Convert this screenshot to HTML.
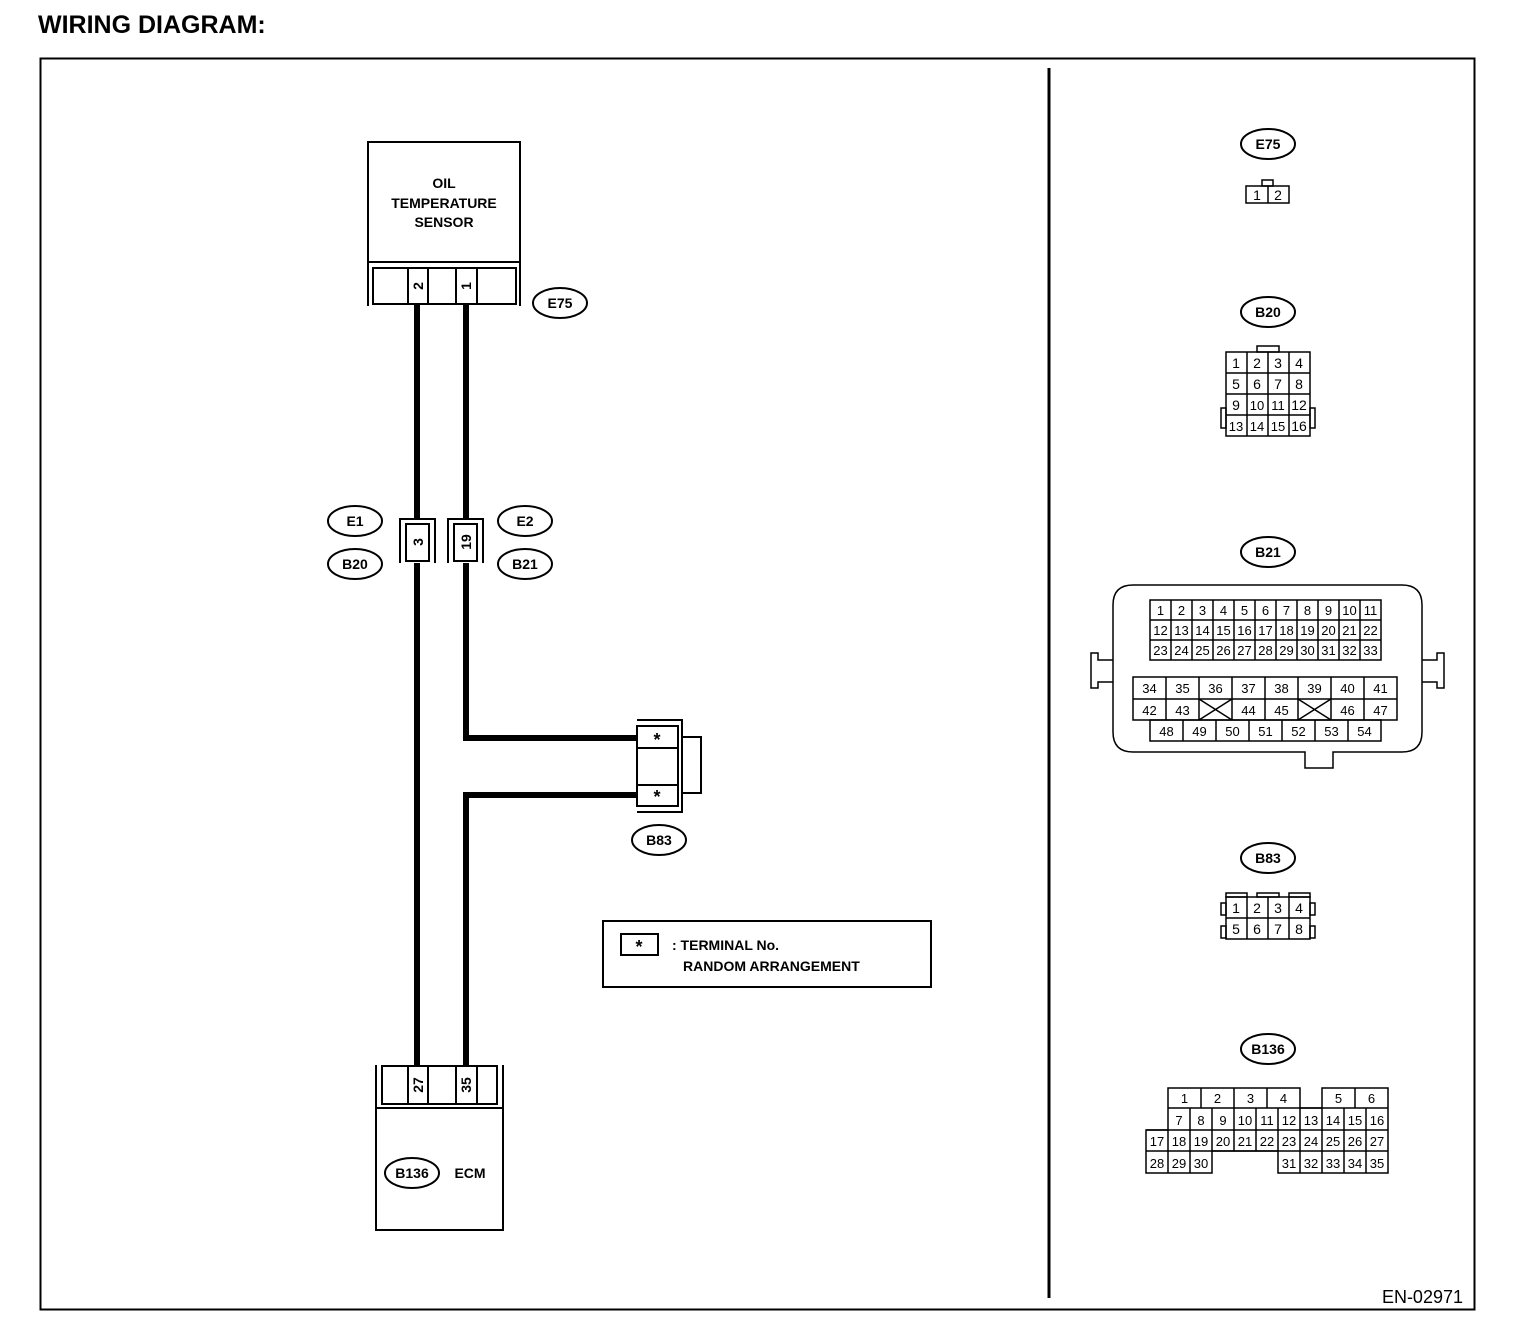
<!DOCTYPE html>
<html><head><meta charset="utf-8"><style>
html,body{margin:0;padding:0;background:#fff;}
svg{display:block;}
text{font-family:"Liberation Sans",Arial,sans-serif;fill:#000;}
.b{font-weight:bold;font-size:14px;text-anchor:middle;}
.n{font-size:14px;text-anchor:middle;}
.s{font-size:13px;text-anchor:middle;}
</style></head><body>
<svg width="1520" height="1328" viewBox="0 0 1520 1328" xmlns="http://www.w3.org/2000/svg">
<text x="38" y="33" style="font-weight:bold;font-size:25px">WIRING DIAGRAM:</text>
<rect x="40.5" y="58.5" width="1434" height="1251" fill="none" stroke="#000" stroke-width="2"/>
<line x1="1049" y1="68" x2="1049" y2="1298" stroke="#000" stroke-width="3"/>

<g fill="none" stroke="#000" stroke-width="2">
<polyline points="368,306 368,142 520,142 520,306"/>
<line x1="368" y1="262" x2="520" y2="262"/>
<rect x="373" y="268" width="143" height="36"/>
<line x1="408" y1="268" x2="408" y2="304"/><line x1="428" y1="268" x2="428" y2="304"/>
<line x1="456" y1="268" x2="456" y2="304"/><line x1="477" y1="268" x2="477" y2="304"/>
<polyline points="376,1065 376,1230 503,1230 503,1065"/>
<line x1="376" y1="1108" x2="503" y2="1108"/>
<rect x="382" y="1066" width="115" height="38"/>
<line x1="408" y1="1066" x2="408" y2="1104"/><line x1="428" y1="1066" x2="428" y2="1104"/>
<line x1="456" y1="1066" x2="456" y2="1104"/><line x1="477" y1="1066" x2="477" y2="1104"/>
<polyline points="400,563 400,519 435,519 435,563"/>
<rect x="406" y="524" width="23" height="37"/>
<polyline points="448,563 448,519 483,519 483,563"/>
<rect x="454" y="524" width="23" height="37"/>
<polyline points="637,720 682,720 682,812 637,812"/>
<rect x="637" y="726" width="41" height="80"/>
<line x1="637" y1="748" x2="678" y2="748"/><line x1="637" y1="785" x2="678" y2="785"/>
<rect x="682" y="737" width="19" height="56"/>
<rect x="603" y="921" width="328" height="66"/>
<rect x="621" y="934" width="37" height="21"/>
<ellipse cx="560" cy="303" rx="27" ry="15"/>
<ellipse cx="355" cy="521" rx="27" ry="15"/>
<ellipse cx="355" cy="564" rx="27" ry="15"/>
<ellipse cx="525" cy="521" rx="27" ry="15"/>
<ellipse cx="525" cy="564" rx="27" ry="15"/>
<ellipse cx="659" cy="840" rx="27" ry="15"/>
<ellipse cx="412" cy="1173" rx="27" ry="15"/>
<ellipse cx="1268" cy="144" rx="27" ry="15"/>
<ellipse cx="1268" cy="312" rx="27" ry="15"/>
<ellipse cx="1268" cy="552" rx="27" ry="15"/>
<ellipse cx="1268" cy="858" rx="27" ry="15"/>
<ellipse cx="1268" cy="1049" rx="27" ry="15"/>
</g>

<g fill="none" stroke="#000" stroke-width="6">
<line x1="417" y1="305" x2="417" y2="519"/>
<line x1="466" y1="305" x2="466" y2="519"/>
<line x1="417" y1="563" x2="417" y2="1066"/>
<polyline points="466,563 466,738 637,738"/>
<polyline points="637,795 466,795 466,1066"/>
</g>

<g class="b">
<text x="444" y="188">OIL</text>
<text x="444" y="208">TEMPERATURE</text>
<text x="444" y="227">SENSOR</text>
<text x="560" y="308">E75</text>
<text x="355" y="526">E1</text>
<text x="355" y="569">B20</text>
<text x="525" y="526">E2</text>
<text x="525" y="569">B21</text>
<text x="659" y="845">B83</text>
<text x="412" y="1178">B136</text>
<text x="470" y="1178">ECM</text>
<text x="1268" y="149">E75</text>
<text x="1268" y="317">B20</text>
<text x="1268" y="557">B21</text>
<text x="1268" y="863">B83</text>
<text x="1268" y="1054">B136</text>
<text x="657" y="746" style="font-size:18px">*</text>
<text x="657" y="803" style="font-size:18px">*</text>
<text x="639" y="953" style="font-size:18px">*</text>
</g>
<text x="672" y="950" style="font-weight:bold;font-size:14px">: TERMINAL No.</text>
<text x="683" y="971" style="font-weight:bold;font-size:14px">RANDOM ARRANGEMENT</text>
<text x="1463" y="1303" style="font-size:18px;text-anchor:end">EN-02971</text>

<g class="b">
<text transform="translate(423,286) rotate(-90)">2</text>
<text transform="translate(471,286) rotate(-90)">1</text>
<text transform="translate(423,542) rotate(-90)">3</text>
<text transform="translate(471,542) rotate(-90)">19</text>
<text transform="translate(423,1085) rotate(-90)">27</text>
<text transform="translate(471,1085) rotate(-90)">35</text>
</g>

<g fill="none" stroke="#000" stroke-width="1.5">
<rect x="1262" y="180" width="11" height="6"/>
<rect x="1246" y="186" width="43" height="17"/><line x1="1268" y1="186" x2="1268" y2="203"/>
<rect x="1257" y="346" width="22" height="6"/>
<rect x="1221" y="408" width="5" height="20"/><rect x="1310" y="408" width="5" height="20"/>
<rect x="1226" y="352" width="84" height="84"/>
<line x1="1247" y1="352" x2="1247" y2="436"/><line x1="1268" y1="352" x2="1268" y2="436"/><line x1="1289" y1="352" x2="1289" y2="436"/>
<line x1="1226" y1="373" x2="1310" y2="373"/><line x1="1226" y1="394" x2="1310" y2="394"/><line x1="1226" y1="415" x2="1310" y2="415"/>
<path d="M1133,585 H1402 Q1422,585 1422,605 V732 Q1422,752 1402,752 H1333 V768 H1305 V752 H1133 Q1113,752 1113,732 V605 Q1113,585 1133,585 Z"/>
<path d="M1113,660 H1098 V653 H1091 V688 H1098 V682 H1113"/>
<path d="M1422,660 H1437 V653 H1444 V688 H1437 V682 H1422"/>
<rect x="1150" y="600" width="231" height="60"/>
<line x1="1150" y1="620" x2="1381" y2="620"/><line x1="1150" y1="640" x2="1381" y2="640"/>
<line x1="1171" y1="600" x2="1171" y2="660"/><line x1="1192" y1="600" x2="1192" y2="660"/><line x1="1213" y1="600" x2="1213" y2="660"/><line x1="1234" y1="600" x2="1234" y2="660"/><line x1="1255" y1="600" x2="1255" y2="660"/><line x1="1276" y1="600" x2="1276" y2="660"/><line x1="1297" y1="600" x2="1297" y2="660"/><line x1="1318" y1="600" x2="1318" y2="660"/><line x1="1339" y1="600" x2="1339" y2="660"/><line x1="1360" y1="600" x2="1360" y2="660"/>
<rect x="1133" y="677" width="264" height="43"/>
<line x1="1133" y1="699" x2="1397" y2="699"/>
<line x1="1166" y1="677" x2="1166" y2="720"/><line x1="1199" y1="677" x2="1199" y2="720"/><line x1="1232" y1="677" x2="1232" y2="720"/><line x1="1265" y1="677" x2="1265" y2="720"/><line x1="1298" y1="677" x2="1298" y2="720"/><line x1="1331" y1="677" x2="1331" y2="720"/><line x1="1364" y1="677" x2="1364" y2="720"/>
<line x1="1199" y1="699" x2="1232" y2="720"/><line x1="1232" y1="699" x2="1199" y2="720"/>
<line x1="1298" y1="699" x2="1331" y2="720"/><line x1="1331" y1="699" x2="1298" y2="720"/>
<rect x="1150" y="720" width="231" height="21"/>
<line x1="1183" y1="720" x2="1183" y2="741"/><line x1="1216" y1="720" x2="1216" y2="741"/><line x1="1249" y1="720" x2="1249" y2="741"/><line x1="1282" y1="720" x2="1282" y2="741"/><line x1="1315" y1="720" x2="1315" y2="741"/><line x1="1348" y1="720" x2="1348" y2="741"/>
<rect x="1226" y="893" width="21" height="4"/><rect x="1257" y="893" width="22" height="4"/><rect x="1289" y="893" width="21" height="4"/>
<rect x="1221" y="903" width="5" height="12"/><rect x="1310" y="903" width="5" height="12"/>
<rect x="1221" y="926" width="5" height="12"/><rect x="1310" y="926" width="5" height="12"/>
<rect x="1226" y="897" width="84" height="42"/><line x1="1226" y1="918" x2="1310" y2="918"/>
<line x1="1247" y1="897" x2="1247" y2="939"/><line x1="1268" y1="897" x2="1268" y2="939"/><line x1="1289" y1="897" x2="1289" y2="939"/>
<path d="M1168,1088 H1300 V1108 H1322 V1088 H1388 V1173 H1278 V1151 H1212 V1173 H1146 V1130 H1168 Z"/>
<line x1="1168" y1="1108" x2="1388" y2="1108"/><line x1="1146" y1="1130" x2="1388" y2="1130"/><line x1="1146" y1="1151" x2="1388" y2="1151"/>
<line x1="1201" y1="1088" x2="1201" y2="1108"/><line x1="1234" y1="1088" x2="1234" y2="1108"/><line x1="1267" y1="1088" x2="1267" y2="1108"/><line x1="1355" y1="1088" x2="1355" y2="1108"/>
<line x1="1190" y1="1108" x2="1190" y2="1173"/><line x1="1212" y1="1108" x2="1212" y2="1151"/><line x1="1234" y1="1108" x2="1234" y2="1151"/><line x1="1256" y1="1108" x2="1256" y2="1151"/><line x1="1278" y1="1108" x2="1278" y2="1151"/><line x1="1300" y1="1108" x2="1300" y2="1173"/><line x1="1322" y1="1108" x2="1322" y2="1173"/><line x1="1344" y1="1108" x2="1344" y2="1173"/><line x1="1366" y1="1108" x2="1366" y2="1173"/><line x1="1168" y1="1130" x2="1168" y2="1173"/>
</g>

<g class="n">
<text x="1257" y="200">1</text><text x="1278" y="200">2</text>
<text x="1236" y="368">1</text><text x="1257" y="368">2</text><text x="1278" y="368">3</text><text x="1299" y="368">4</text>
<text x="1236" y="389">5</text><text x="1257" y="389">6</text><text x="1278" y="389">7</text><text x="1299" y="389">8</text>
<text x="1236" y="410">9</text><text x="1299" y="410">12</text>
<text x="1299" y="431">16</text>
<text x="1236" y="913">1</text><text x="1257" y="913">2</text><text x="1278" y="913">3</text><text x="1299" y="913">4</text>
<text x="1236" y="934">5</text><text x="1257" y="934">6</text><text x="1278" y="934">7</text><text x="1299" y="934">8</text>
</g>
<g class="s">
<text x="1257" y="410">10</text><text x="1278" y="410">11</text>
<text x="1236" y="431">13</text><text x="1257" y="431">14</text><text x="1278" y="431">15</text>
<text x="1160.5" y="615">1</text><text x="1181.5" y="615">2</text><text x="1202.5" y="615">3</text><text x="1223.5" y="615">4</text><text x="1244.5" y="615">5</text><text x="1265.5" y="615">6</text><text x="1286.5" y="615">7</text><text x="1307.5" y="615">8</text><text x="1328.5" y="615">9</text><text x="1349.5" y="615">10</text><text x="1370.5" y="615">11</text>
<text x="1160.5" y="635">12</text><text x="1181.5" y="635">13</text><text x="1202.5" y="635">14</text><text x="1223.5" y="635">15</text><text x="1244.5" y="635">16</text><text x="1265.5" y="635">17</text><text x="1286.5" y="635">18</text><text x="1307.5" y="635">19</text><text x="1328.5" y="635">20</text><text x="1349.5" y="635">21</text><text x="1370.5" y="635">22</text>
<text x="1160.5" y="655">23</text><text x="1181.5" y="655">24</text><text x="1202.5" y="655">25</text><text x="1223.5" y="655">26</text><text x="1244.5" y="655">27</text><text x="1265.5" y="655">28</text><text x="1286.5" y="655">29</text><text x="1307.5" y="655">30</text><text x="1328.5" y="655">31</text><text x="1349.5" y="655">32</text><text x="1370.5" y="655">33</text>
<text x="1149.5" y="693">34</text><text x="1182.5" y="693">35</text><text x="1215.5" y="693">36</text><text x="1248.5" y="693">37</text><text x="1281.5" y="693">38</text><text x="1314.5" y="693">39</text><text x="1347.5" y="693">40</text><text x="1380.5" y="693">41</text>
<text x="1149.5" y="715">42</text><text x="1182.5" y="715">43</text><text x="1248.5" y="715">44</text><text x="1281.5" y="715">45</text><text x="1347.5" y="715">46</text><text x="1380.5" y="715">47</text>
<text x="1166.5" y="736">48</text><text x="1199.5" y="736">49</text><text x="1232.5" y="736">50</text><text x="1265.5" y="736">51</text><text x="1298.5" y="736">52</text><text x="1331.5" y="736">53</text><text x="1364.5" y="736">54</text>
<text x="1184.5" y="1103">1</text><text x="1217.5" y="1103">2</text><text x="1250.5" y="1103">3</text><text x="1283.5" y="1103">4</text><text x="1338.5" y="1103">5</text><text x="1371.5" y="1103">6</text>
<text x="1179" y="1125">7</text><text x="1201" y="1125">8</text><text x="1223" y="1125">9</text><text x="1245" y="1125">10</text><text x="1267" y="1125">11</text><text x="1289" y="1125">12</text><text x="1311" y="1125">13</text><text x="1333" y="1125">14</text><text x="1355" y="1125">15</text><text x="1377" y="1125">16</text>
<text x="1157" y="1146">17</text><text x="1179" y="1146">18</text><text x="1201" y="1146">19</text><text x="1223" y="1146">20</text><text x="1245" y="1146">21</text><text x="1267" y="1146">22</text><text x="1289" y="1146">23</text><text x="1311" y="1146">24</text><text x="1333" y="1146">25</text><text x="1355" y="1146">26</text><text x="1377" y="1146">27</text>
<text x="1157" y="1168">28</text><text x="1179" y="1168">29</text><text x="1201" y="1168">30</text><text x="1289" y="1168">31</text><text x="1311" y="1168">32</text><text x="1333" y="1168">33</text><text x="1355" y="1168">34</text><text x="1377" y="1168">35</text>
</g>
</svg>
</body></html>
